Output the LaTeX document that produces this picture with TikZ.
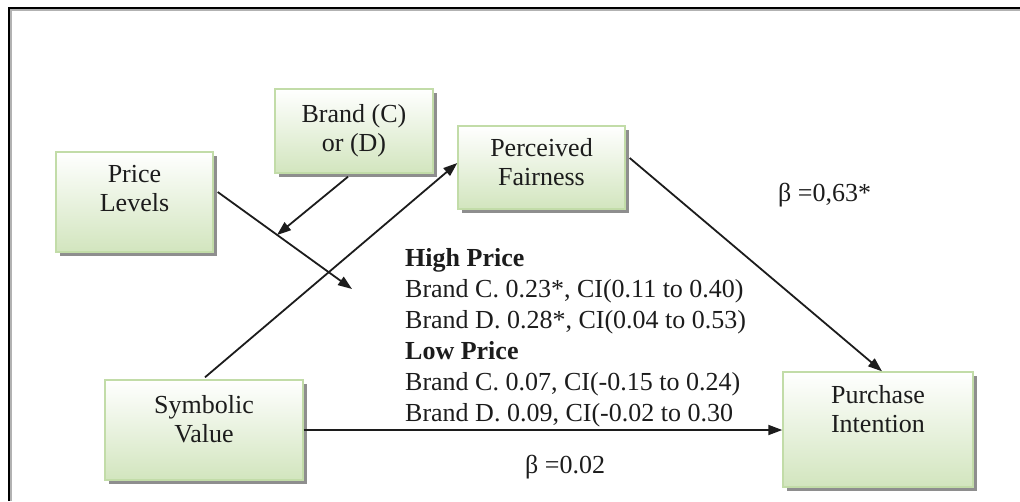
\documentclass[tikz,border=0pt]{standalone}
\usepackage{fontspec}
\setmainfont{Liberation Serif}
\usetikzlibrary{arrows.meta,shadows,calc}
\definecolor{boxborder}{HTML}{C2DCA8}
\definecolor{boxbottom}{HTML}{D2E5BE}
\definecolor{shadowgray}{HTML}{8E8E8E}
\definecolor{ink}{HTML}{1C1C1C}
\tikzset{
 box/.style={draw=boxborder, line width=1.4pt, top color=white, bottom color=boxbottom, inner sep=0pt,
   general shadow={fill=shadowgray, shadow xshift=3.5pt, shadow yshift=-3.5pt}},
 boxtext/.style={align=center, font=\fontsize{26}{29}\selectfont, inner sep=0pt, text=ink},
 conn/.style={line width=1.8pt, draw=ink, -{Triangle[length=14pt,width=10pt]}},
 lbl/.style={font=\fontsize{26}{31}\selectfont, inner sep=0pt, text=ink},
 frameline/.style={line width=2pt, draw=black},
}
\begin{document}
\begin{tikzpicture}[x=1pt,y=-1pt]
\useasboundingbox (0,0) rectangle (1020,501);
% outer frame
\draw[line width=1.5pt, draw=gray!60] (11,501) -- (11,10) -- (1020,10);
\draw[frameline] (9,501) -- (9,7.5) -- (1020,7.5);
% boxes
\node[box, minimum width=157pt, minimum height=100pt] (price) at (134.5,202) {};
\node[boxtext] (pricet) at (134.5,189) {Price\\Levels};
\node[box, minimum width=158pt, minimum height=84pt] (brand) at (354,131) {};
\node[boxtext] (brandt) at (354,130.5) {Brand (C)\\or (D)};
\node[box, minimum width=167pt, minimum height=83pt] (perc) at (541.5,167.5) {};
\node[boxtext] (perct) at (541.5,162.5) {Perceived\\Fairness};
\node[box, minimum width=198pt, minimum height=100pt] (symb) at (204,430) {};
\node[boxtext] (symbt) at (204,419) {Symbolic\\Value};
\node[box, minimum width=190pt, minimum height=115pt] (purch) at (878,429.5) {};
\node[boxtext] (purcht) at (878,409) {Purchase\\Intention};
% free ends
\coordinate (mod) at (352,289);
\coordinate (inter) at (277,235);
% connectors
\draw[conn] ($(price.east)+(4,-10)$) -- (mod);
\draw[conn] ($(brand.south)+(-6,3)$) -- (inter);
\draw[conn] ($(symb.north)+(1,-2)$) -- ($(perc.west)+(0,-4.5)$);
\draw[conn] ($(perc.east)+(4,-9.5)$) -- ($(purch.north)+(4,0)$);
\draw[conn] (symb.east) -- (symb.east -| purch.west);
% labels
\node[lbl, anchor=north west, align=left] (res) at (405,248)
 {\textbf{High Price}\\
  Brand C. 0.23*, CI(0.11 to 0.40)\\
  Brand D. 0.28*, CI(0.04 to 0.53)\\
  \textbf{Low Price}\\
  Brand C. 0.07, CI(-0.15 to 0.24)\\
  Brand D. 0.09, CI(-0.02 to 0.30};
\node[lbl, anchor=west] (beta1) at (778,195) {β =0,63*};
\node[lbl, anchor=west] (beta2) at (525,467) {β =0.02};
\end{tikzpicture}
\end{document}
